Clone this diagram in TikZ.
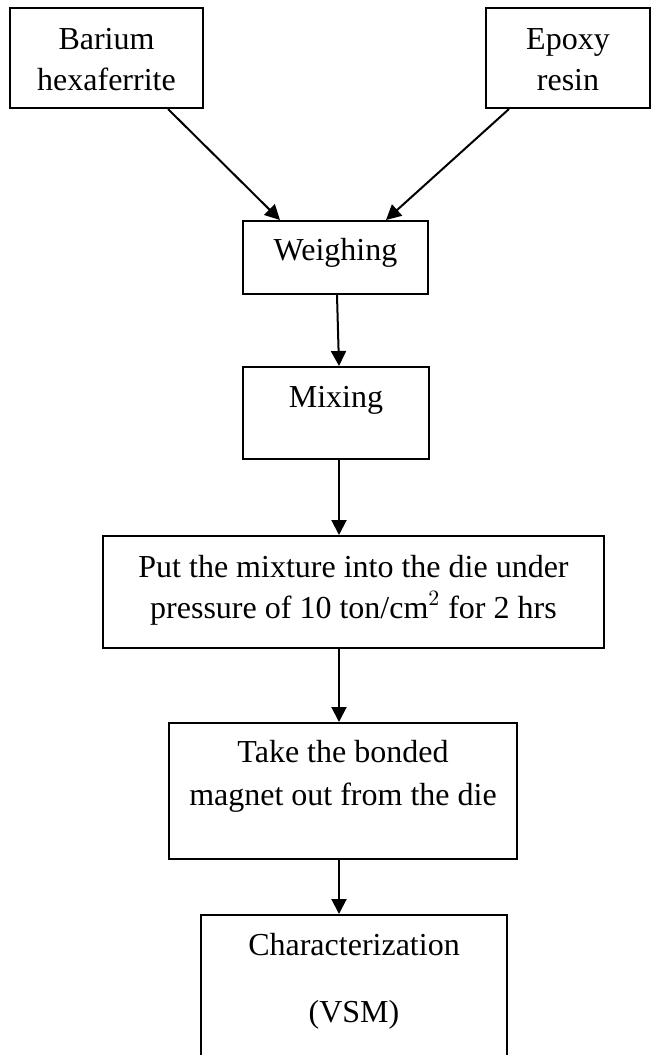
\documentclass[tikz,border=0pt]{standalone}
\usepackage{fontspec}
\setmainfont{Liberation Serif}
\usetikzlibrary{arrows.meta}

\begin{document}
\begin{tikzpicture}[x=1pt,y=1pt]
            \useasboundingbox (0,0) rectangle (325,-527.5);
            \begin{scope}[every node/.style={rectangle, draw, line width=1pt, inner sep=0pt, anchor=base, align=center,
                                              font=\fontsize{16}{20.5}\selectfont},
                          every edge/.style={draw, line width=1pt, -{Triangle[length=7.5pt,width=7.5pt]}}]

                \node[minimum width=96.5pt, text height=41pt, text depth=9pt] (bar) at (53.25,-45) {Barium\\hexaferrite};
                \node[minimum width=82pt, text height=41pt, text depth=9pt] (epo) at (284,-45) {Epoxy\\resin};
                \node[minimum width=92.5pt, text height=19.5pt, text depth=17pt] (wei) at (167.75,-130) {Weighing};
                \node[minimum width=93pt, text height=20pt, text depth=26pt] (mix) at (168,-203.5) {Mixing};
                \node[minimum width=250.5pt, text height=41pt, text depth=15pt] (put) at (176.75,-309) {Put the mixture into the die under\\pressure of 10 ton/cm$^{2}$ for 2 hrs};
                \node[minimum width=174pt, text height=41pt, text depth=27pt, font=\fontsize{16}{21.5}\selectfont] (take) at (171.5,-402.5) {Take the bonded\\magnet out from the die};
                \node[minimum width=153pt, text height=53.5pt, text depth=19pt] (chr) at (177,-511) {Characterization\\[13pt](VSM)};

                \path ([xshift=30.75pt]bar.south) edge ([xshift=-27.75pt]wei.north);
                \path ([xshift=-29.5pt]epo.south) edge ([xshift=25.25pt]wei.north);
                \path ([xshift=0.75pt]wei.south) edge ([xshift=1.5pt]mix.north);
                \path ([xshift=1.5pt]mix.south) edge ([xshift=-7.25pt]put.north);
                \path ([xshift=-7.25pt]put.south) edge ([xshift=-2pt]take.north);
                \path ([xshift=-2pt]take.south) edge ([xshift=-7.5pt]chr.north);
            \end{scope}
        \end{tikzpicture}
\end{document}
